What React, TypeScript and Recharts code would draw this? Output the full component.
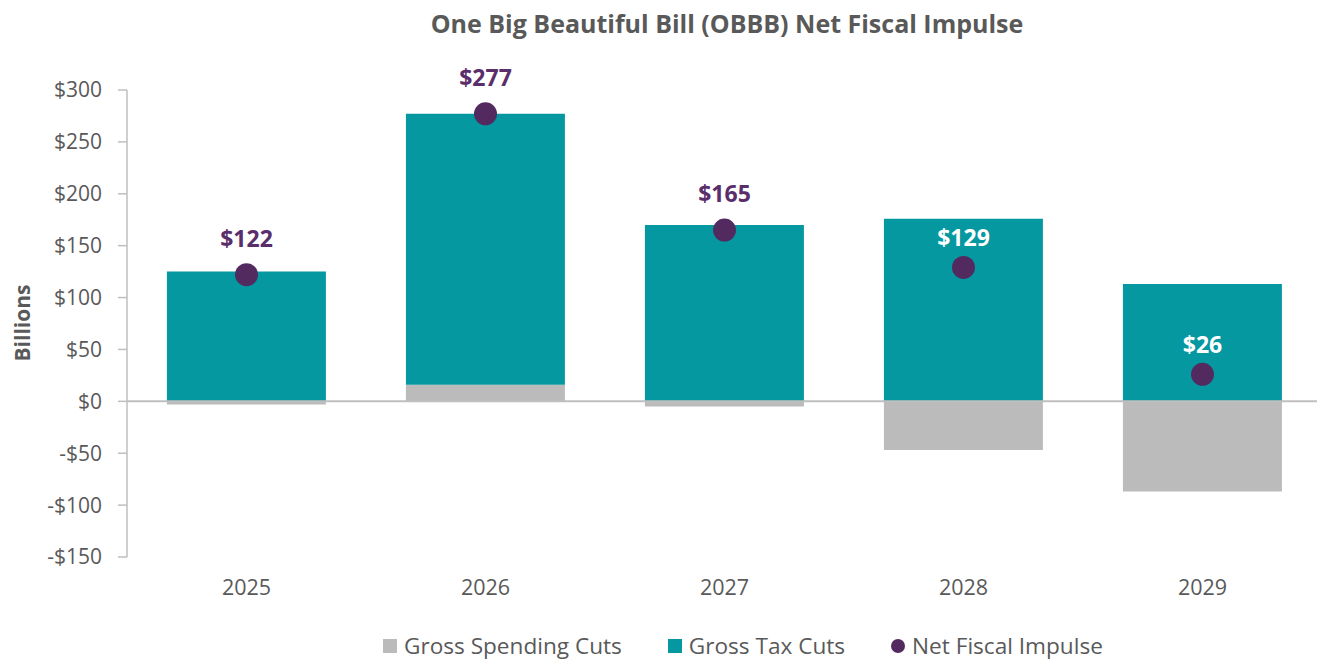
import React from "react";
import {
  ComposedChart,
  Bar,
  Line,
  XAxis,
  YAxis,
  ReferenceLine,
  LabelList,
} from "recharts";

const years = ["2025", "2026", "2027", "2028", "2029"];
const spendingCuts = [-3, 16, -5, -47, -87];
const taxCuts = [125, 261, 170, 176, 113];
const netImpulse = [122, 277, 165, 129, 26];
const yTicks = [-150, -100, -50, 0, 50, 100, 150, 200, 250, 300];
const labelColors = ["#5A2D6B", "#5A2D6B", "#5A2D6B", "#FFFFFF", "#FFFFFF"];

const GRAY = "#BBBBBB";
const TEAL = "#0598A1";
const PURPLE = "#532A60";
const TEXT = "#595959";
const FONT = "'Open Sans', 'Noto Sans', sans-serif";

const data = years.map((y, i) => ({
  year: y,
  spending: spendingCuts[i],
  tax: taxCuts[i],
  net: netImpulse[i],
}));

const fmt = (v: number) => (v < 0 ? `-$${Math.abs(v)}` : `$${v}`);

const NetLabel = (props: any) => {
  const { x, y, value, index } = props;
  const white = labelColors[index] === "#FFFFFF";
  return (
    <text
      x={x}
      y={y - (white ? 21 : 28)}
      textAnchor="middle"
      fill={labelColors[index]}
      fontFamily={FONT}
      fontWeight={700}
      fontSize={23}
    >
      {fmt(value)}
    </text>
  );
};

const LegendItem = ({ color, label, round }: { color: string; label: string; round?: boolean }) => (
  <div style={{ display: "flex", alignItems: "center", marginRight: 46, height: 22 }}>
    <div
      style={{
        width: 14,
        height: 14,
        background: color,
        borderRadius: round ? "50%" : 0,
        marginRight: 7,
      }}
    />
    <span style={{ fontSize: 22.6, lineHeight: "22px", color: TEXT, fontFamily: FONT }}>{label}</span>
  </div>
);

export default function App() {
  return (
    <div
      style={{
        position: "absolute",
        left: 0,
        top: 0,
        width: 1317,
        height: 660,
        overflow: "hidden",
        background: "#fff",
        fontFamily: FONT,
      }}
    >
      <div
        style={{
          position: "absolute",
          top: 6,
          left: 0,
          width: 1454,
          textAlign: "center",
          fontSize: 25,
          fontWeight: 700,
          color: TEXT,
          fontFamily: FONT,
        }}
      >
        One Big Beautiful Bill (OBBB) Net Fiscal Impulse
      </div>
      <div
        style={{
          position: "absolute",
          left: 22,
          top: 323,
          transform: "translate(-50%, -50%) rotate(-90deg)",
          fontSize: 21,
          fontWeight: 700,
          color: TEXT,
          fontFamily: FONT,
          whiteSpace: "nowrap",
        }}
      >
        Billions
      </div>
      <div style={{ position: "absolute", left: 0, top: 0 }}>
        <ComposedChart
          width={1322}
          height={660}
          data={data}
          stackOffset="sign"
          barCategoryGap="16.7%"
          margin={{ top: 90, right: 0, bottom: 63, left: 0 }}
        >
          <XAxis
            dataKey="year"
            axisLine={false}
            tickLine={false}
            tickSize={0}
            tickMargin={23}
            height={40}
            tick={{ fill: TEXT, fontSize: 21.5, fontFamily: FONT }}
          />
          <YAxis
            width={127}
            domain={[-150, 300]}
            ticks={yTicks}
            interval={0}
            tickFormatter={fmt}
            axisLine={{ stroke: "#BFBFBF", strokeWidth: 1.5 }}
            tickLine={{ stroke: "#BFBFBF", strokeWidth: 1.5 }}
            tickSize={9}
            tickMargin={16}
            tick={{ fill: TEXT, fontSize: 21, fontFamily: FONT }}
          />
          <Bar dataKey="spending" stackId="a" fill={GRAY} isAnimationActive={false} />
          <Bar dataKey="tax" stackId="a" fill={TEAL} isAnimationActive={false} />
          <ReferenceLine y={0} stroke="#BFBFBF" strokeWidth={2} />
          <Line
            dataKey="net"
            stroke="none"
            isAnimationActive={false}
            dot={{ r: 11.5, fill: PURPLE, stroke: "none" }}
            activeDot={false}
          >
            <LabelList dataKey="net" content={NetLabel} />
          </Line>
        </ComposedChart>
      </div>
      <div
        style={{
          position: "absolute",
          top: 635,
          left: 383,
          display: "flex",
          alignItems: "center",
        }}
      >
        <LegendItem color={GRAY} label="Gross Spending Cuts" />
        <LegendItem color={TEAL} label="Gross Tax Cuts" />
        <LegendItem color={PURPLE} label="Net Fiscal Impulse" round />
      </div>
    </div>
  );
}
